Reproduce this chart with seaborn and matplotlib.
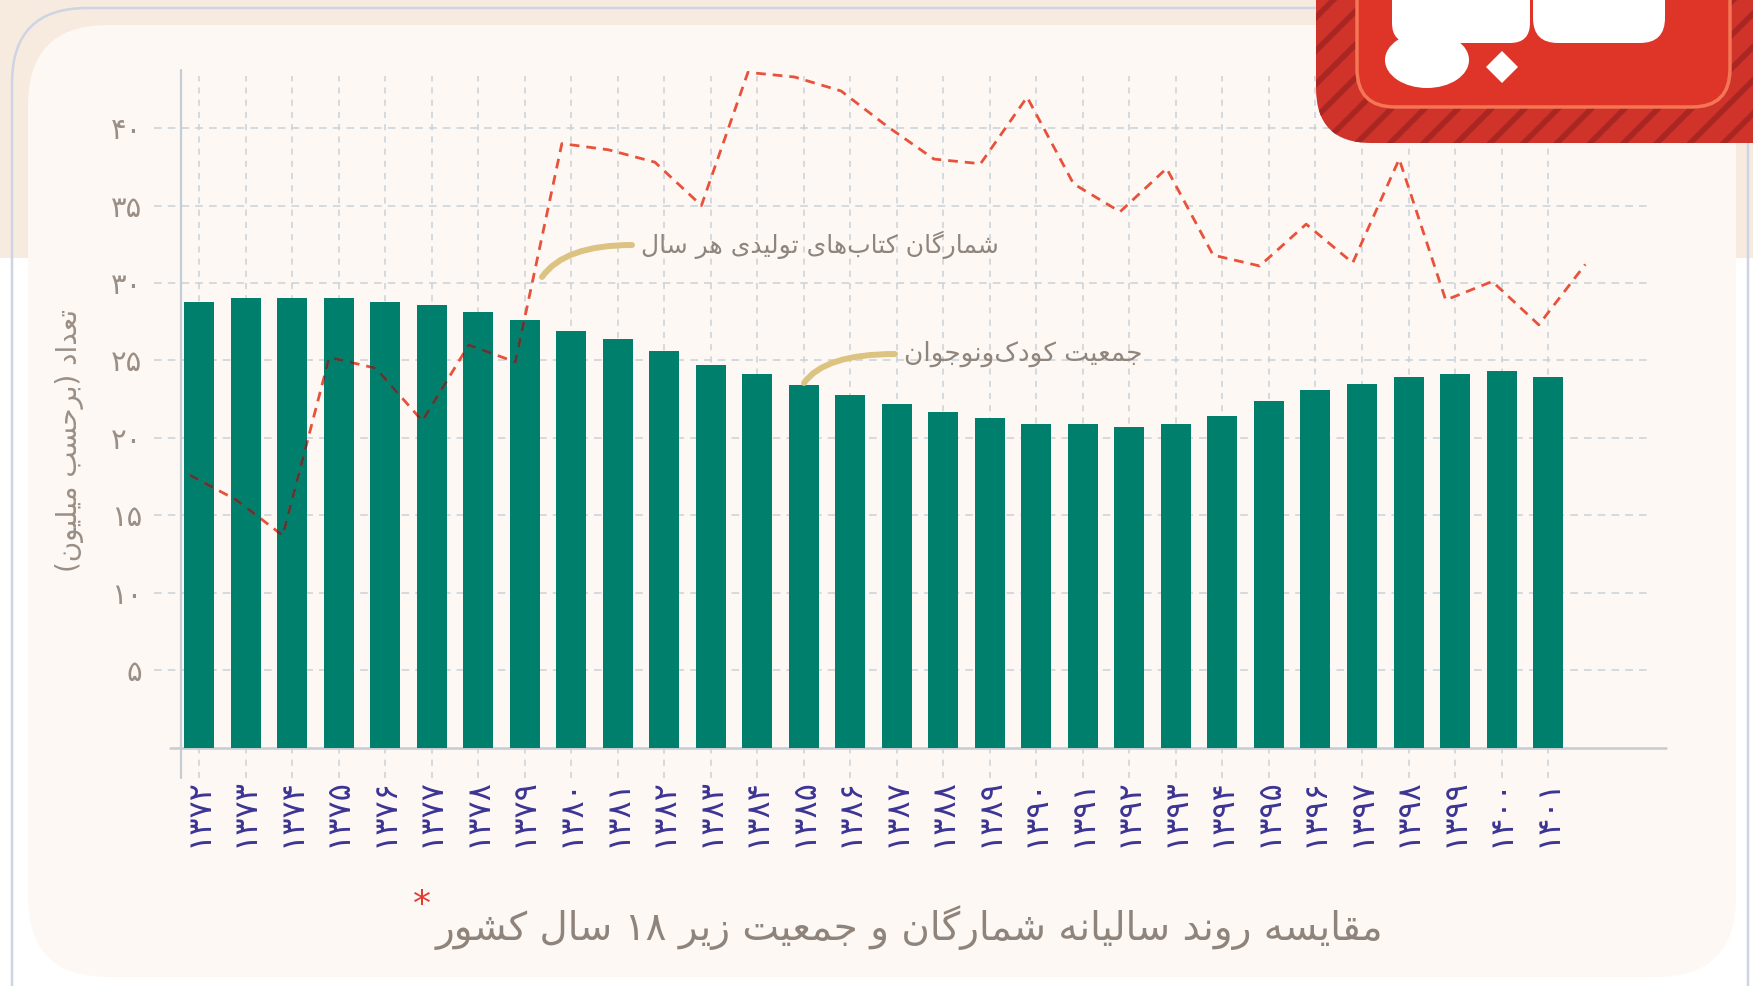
import re
import numpy as np
import pandas as pd
import seaborn as sns
import matplotlib.pyplot as plt
from matplotlib.path import Path
from matplotlib.patches import FancyBboxPatch, FancyArrowPatch, Rectangle, Ellipse, RegularPolygon
from matplotlib.transforms import IdentityTransform

sns.set_theme(style="white")
plt.rcParams["font.family"] = ["DejaVu Sans"]
plt.rcParams["hatch.linewidth"] = 4.0

# data (millions)
years = [1372, 1373, 1374, 1375, 1376, 1377, 1378, 1379, 1380, 1381,
         1382, 1383, 1384, 1385, 1386, 1387, 1388, 1389, 1390, 1391,
         1392, 1393, 1394, 1395, 1396, 1397, 1398, 1399, 1400, 1401]
population = [28.8, 29.0, 29.0, 29.0, 28.8, 28.6, 28.1, 27.6, 26.9, 26.4,
              25.6, 24.7, 24.1, 23.4, 22.8, 22.2, 21.7, 21.3, 20.9, 20.9,
              20.7, 20.9, 21.4, 22.4, 23.1, 23.5, 23.9, 24.1, 24.3, 23.9]
# circulation line has one more point than the bars
circulation = [17.6, 16.0, 13.7, 25.2, 24.5, 21.1, 26.0, 24.9, 39.0, 38.6,
               37.8, 35.0, 43.6, 43.3, 42.4, 40.1, 38.0, 37.7, 42.0, 36.4,
               34.6, 37.4, 31.8, 31.1, 33.8, 31.3, 38.0, 28.9, 30.1, 27.3,
               31.2]
y_ticks = [5, 10, 15, 20, 25, 30, 35, 40]

TITLE = "مقایسه روند سالیانه شمارگان و جمعیت زیر ۱۸ سال کشور"
Y_LABEL = "تعداد (برحسب میلیون)"
LINE_NOTE = "شمارگان کتاب\u200cهای تولیدی هر سال"
BAR_NOTE = "جمعیت کودک\u200cونوجوان"

GREEN = "#007f6c"
RED = "#e8523b"
DARK = "#4d3d3a"
GRID = "#c9d1d8"
AXIS = "#c5ccd4"
TICK = "#9a8e85"
BLUE = "#3b3494"
NOTE = "#8f857d"
TAN = "#dcc381"

FA_DIGITS = str.maketrans("0123456789", "۰۱۲۳۴۵۶۷۸۹")

# (isolated, final, initial, medial)
FORMS = {
    "ا": ("\uFE8D", "\uFE8E", None, None),
    "ب": ("\uFE8F", "\uFE90", "\uFE91", "\uFE92"),
    "ت": ("\uFE95", "\uFE96", "\uFE97", "\uFE98"),
    "ج": ("\uFE9D", "\uFE9E", "\uFE9F", "\uFEA0"),
    "ح": ("\uFEA1", "\uFEA2", "\uFEA3", "\uFEA4"),
    "د": ("\uFEA9", "\uFEAA", None, None),
    "ر": ("\uFEAD", "\uFEAE", None, None),
    "ز": ("\uFEAF", "\uFEB0", None, None),
    "س": ("\uFEB1", "\uFEB2", "\uFEB3", "\uFEB4"),
    "ش": ("\uFEB5", "\uFEB6", "\uFEB7", "\uFEB8"),
    "ع": ("\uFEC9", "\uFECA", "\uFECB", "\uFECC"),
    "ق": ("\uFED5", "\uFED6", "\uFED7", "\uFED8"),
    "ل": ("\uFEDD", "\uFEDE", "\uFEDF", "\uFEE0"),
    "م": ("\uFEE1", "\uFEE2", "\uFEE3", "\uFEE4"),
    "ن": ("\uFEE5", "\uFEE6", "\uFEE7", "\uFEE8"),
    "ه": ("\uFEE9", "\uFEEA", "\uFEEB", "\uFEEC"),
    "و": ("\uFEED", "\uFEEE", None, None),
    "ی": ("\uFBFC", "\uFBFD", "\uFBFE", "\uFBFF"),
    "ک": ("\uFB8E", "\uFB8F", "\uFB90", "\uFB91"),
    "گ": ("\uFB92", "\uFB93", "\uFB94", "\uFB95"),
}
MIRROR = str.maketrans("()", ")(")


def fa(text):
    # minimal arabic-script shaping + bidi, since matplotlib draws LTR only
    out = []
    for i, c in enumerate(text):
        if c not in FORMS:
            out.append(c)
            continue
        prev = text[i - 1] if i > 0 else ""
        nxt = text[i + 1] if i + 1 < len(text) else ""
        jp = prev in FORMS and FORMS[prev][2] is not None
        jn = FORMS[c][2] is not None and nxt in FORMS
        iso, fin, ini, med = FORMS[c]
        out.append(med if jp and jn else fin if jp else ini if jn else iso)
    s = "".join(ch for ch in out if ch != "\u200c")
    runs = re.findall(r"[۰-۹]+|[^۰-۹]+", s)
    vis = [r if r[0] in "۰۱۲۳۴۵۶۷۸۹" else r[::-1].translate(MIRROR) for r in reversed(runs)]
    return "".join(vis)


# layout in pixels of the 1753x986 canvas (y measured from top)
W, H = 1753, 986
AX_L, AX_R, AX_B, AX_T = 181, 1666, 747.7, 70
BAR0, STEP, UNIT = 199, 46.52, 15.49


def dx(px):
    return (px - BAR0) / STEP


def dy(py):
    return (AX_B - py) / UNIT


fig = plt.figure(figsize=(W / 100, H / 100), dpi=100, facecolor="white")
pix = IdentityTransform()

# background card
fig.add_artist(Rectangle((0, H - 258), W, 258, fc="#f7ebdf", lw=0, transform=pix, zorder=-20))
fig.add_artist(FancyBboxPatch((12, -80), 1736, H - 8 + 80, boxstyle="round,pad=0,rounding_size=75",
                              fc="none", ec="#cdd4e3", lw=1.8, transform=pix, zorder=-19))
fig.add_artist(FancyBboxPatch((28, 9), 1708, H - 25 - 9, boxstyle="round,pad=0,rounding_size=80",
                              fc="#fdf8f4", lw=0, transform=pix, zorder=-18))

ax = fig.add_axes([AX_L / W, 1 - AX_B / H, (AX_R - AX_L) / W, (AX_B - AX_T) / H])
ax.set_facecolor("none")

df = pd.DataFrame({"year": [str(y).translate(FA_DIGITS) for y in years], "pop": population})
sns.barplot(data=df, x="year", y="pop", color=GREEN, saturation=1, width=0.645,
            linewidth=0, ax=ax, zorder=2)
bars = list(ax.patches)

xlim = (dx(AX_L), dx(AX_R))
ylim = (0, dy(AX_T))
ax.set_xlim(xlim)
ax.set_ylim(ylim)
ax.set_xlabel("")
for s in ax.spines.values():
    s.set_visible(False)

# dashed grid that runs past the axes like long ticks
ax.hlines(y_ticks, dx(154), dx(1648), colors=GRID, linewidth=1.1,
          linestyles=(0, (5, 4)), zorder=0.5, clip_on=False)
ax.vlines(range(len(years)), dy(778), dy(76), colors=GRID, linewidth=1.1,
          linestyles=(0, (4, 4)), zorder=0.5, clip_on=False)
ax.plot([xlim[0], xlim[0]], [dy(778), ylim[1]], color=AXIS, lw=1.6, clip_on=False, zorder=1)
ax.plot([dx(170), xlim[1]], [0, 0], color=AXIS, lw=1.8, clip_on=False, zorder=1)

ax.set_yticks(y_ticks)
ax.set_yticklabels([str(v).translate(FA_DIGITS) for v in y_ticks])
ax.set_xticks(range(len(years)))
ax.set_xticklabels(df["year"], rotation=90)
ax.tick_params(axis="both", length=0)
ax.tick_params(axis="y", pad=28, labelsize=21, labelcolor=TICK)
ax.tick_params(axis="x", pad=22, labelsize=23, labelcolor=BLUE)

ax.set_ylabel(fa(Y_LABEL), fontsize=20, color=TICK)
ax.yaxis.set_label_coords((70 - AX_L) / (AX_R - AX_L), (AX_B - 440) / (AX_B - AX_T))
ax.yaxis.label.set_va("center")

# annotations with curved tan leaders
for (ax_px, ay_px), (bx_px, by_px), txt, size in [((632, 245), (542, 277), LINE_NOTE, 18),
                                                   ((895, 354), (804, 383), BAR_NOTE, 19)]:
    ax.add_patch(FancyArrowPatch((dx(ax_px), dy(ay_px)), (dx(bx_px), dy(by_px)),
                                 arrowstyle="-", connectionstyle="angle3,angleA=0,angleB=55",
                                 color=TAN, lw=4.3, shrinkA=0, shrinkB=0, zorder=4, clip_on=False))
    ax.text(dx(ax_px + 9), dy(ay_px), fa(txt), ha="left", va="center",
            fontsize=size, color=NOTE, zorder=4)

# circulation line on a twin x so its points sit slightly left of the bars
ax2 = ax.twiny()
xs = np.arange(len(circulation))
sns.lineplot(x=xs, y=circulation, ax=ax2, color=RED, linewidth=2.0)
sns.lineplot(x=xs, y=circulation, ax=ax2, color=DARK, linewidth=2.0)
ax2.set_xlim(xlim[0] + 0.2, xlim[1] + 0.2)
ax2.set_ylim(ylim)
ax2.set_axis_off()
red_line, dark_line = ax2.lines[-2], ax2.lines[-1]
for ln in (red_line, dark_line):
    ln.set_linestyle((0, (3.5, 2.5)))
    ln.set_zorder(3)
red_line.set_clip_on(False)
bar_paths = [b.get_path().transformed(b.get_patch_transform()) for b in bars]
dark_line.set_clip_path(Path.make_compound_path(*bar_paths), ax.transData)

# logo block, top right
fig.add_artist(FancyBboxPatch((1316, H - 143), 600, 320, boxstyle="round,pad=0,rounding_size=55",
                              fc="#cf3329", ec="#aa2622", lw=0, hatch="/", transform=pix, zorder=10))
fig.add_artist(FancyBboxPatch((1357, H - 107), 373, 240, boxstyle="round,pad=0,rounding_size=38",
                              fc="#df3528", ec="#f47655", lw=2.5, transform=pix, zorder=11))
fig.add_artist(FancyBboxPatch((1392, H - 43), 138, 80, boxstyle="round,pad=0,rounding_size=20",
                              fc="white", lw=0, transform=pix, zorder=12))
fig.add_artist(Ellipse((1427, H - 60), 84, 56, fc="white", lw=0, transform=pix, zorder=12))
fig.add_artist(FancyBboxPatch((1533, H - 43), 132, 80, boxstyle="round,pad=0,rounding_size=25",
                              fc="white", lw=0, transform=pix, zorder=12))
fig.add_artist(RegularPolygon((1502, H - 67), 4, radius=16, fc="white", lw=0, transform=pix, zorder=12))

# caption with red asterisk at its left end
title = fig.text(1383 / W, 1 - 928 / H, fa(TITLE), ha="right", va="center",
                 fontsize=28, color="#8f847b")
fig.canvas.draw()
bb = title.get_window_extent()
fig.text((bb.x0 - 13) / W, 1 - 905 / H, "*", ha="center", va="center", fontsize=26, color="#e23b2f")

fig.savefig("out.png", dpi=100)
